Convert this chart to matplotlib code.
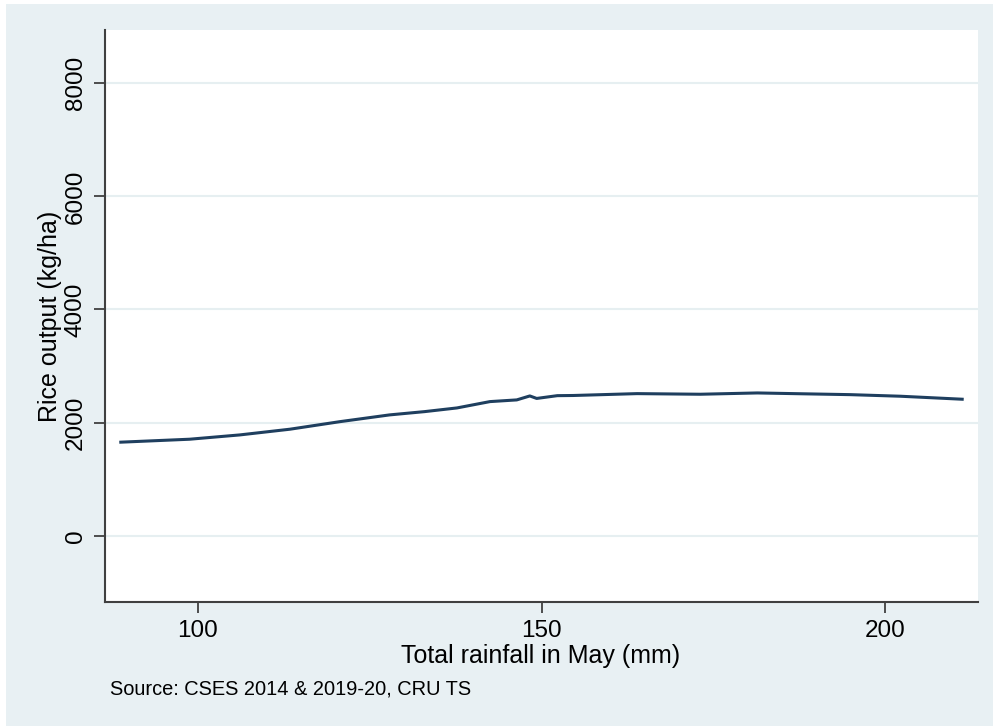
import matplotlib
matplotlib.use("Agg")
import matplotlib.pyplot as plt
from matplotlib.patches import Rectangle

plt.rcParams['font.family'] = ['Liberation Sans', 'DejaVu Sans']

# fitted rice output vs May rainfall
rainfall = [88.8, 98.8, 106.1, 113.4, 120.7, 127.9, 133.0, 137.7, 142.5, 146.4,
            148.3, 149.3, 152.3, 154.6, 163.9, 173.1, 181.4, 188.0, 194.9,
            202.2, 211.2]
output = [1655, 1707, 1783, 1884, 2018, 2137, 2195, 2260, 2372, 2402,
          2472, 2428, 2477, 2480, 2513, 2502, 2525, 2510, 2495,
          2467, 2414]

xticks = [100, 150, 200]
yticks = [0, 2000, 4000, 6000, 8000]

bg = '#e8f0f3'
W, H = 993, 726
fig = plt.figure(figsize=(W / 100, H / 100), dpi=100, facecolor='white')
fig.patches.append(Rectangle((6 / W, 0), 1, 1 - 4 / H, transform=fig.transFigure,
                             facecolor=bg, edgecolor='none', zorder=-1))

ax = fig.add_axes([105 / W, (H - 602) / H, (978 - 105) / W, (602 - 30) / H])
ax.set_facecolor('white')

ax.plot(rainfall, output, color='#1f3f5f', lw=2.2, zorder=3)

ax.set_xlim(86.5, 213.5)
ax.set_ylim(-1170, 8940)
ax.set_xticks(xticks)
ax.set_yticks(yticks)
ax.set_yticklabels([str(t) for t in yticks], rotation=90, va='center')
ax.grid(axis='y', color='#e6eff1', lw=1.5)
ax.set_axisbelow(True)

for s in ['top', 'right']:
    ax.spines[s].set_visible(False)
for s in ['left', 'bottom']:
    ax.spines[s].set_color('#404040')
    ax.spines[s].set_linewidth(1.5)
ax.tick_params(length=8, width=1.3, color='#404040', labelsize=17.5, pad=5)

ax.set_xlabel('Total rainfall in May (mm)', fontsize=18)
ax.set_ylabel('Rice output (kg/ha)', fontsize=18)
ax.xaxis.set_label_coords(0.5 * (402 + 680 - 2 * 105) / 873, -(644 - 602) / 572)
ax.yaxis.set_label_coords((62 - 105) / 873, 0.5)

fig.text(110 / W, 1 - 689 / H, 'Source: CSES 2014 & 2019-20, CRU TS',
         fontsize=14.4, va='center', ha='left')

fig.savefig('out.png', dpi=100, facecolor=fig.get_facecolor())
